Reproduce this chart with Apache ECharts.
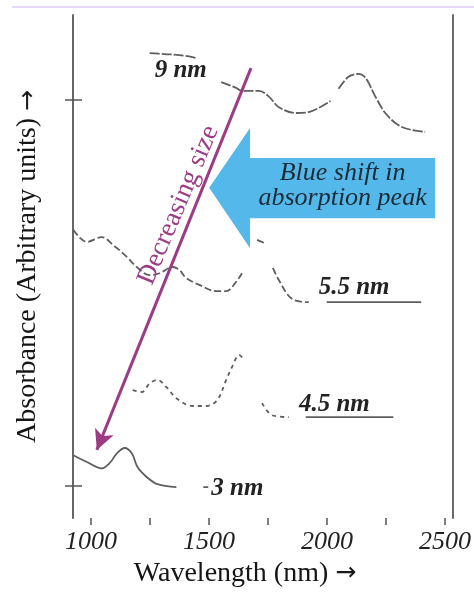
<!DOCTYPE html>
<html><head><meta charset="utf-8">
<script src="https://cdn.jsdelivr.net/npm/echarts@6/dist/echarts.min.js"></script>
<style>html,body{margin:0;padding:0;background:#fff}#c{width:474px;height:595px}</style>
</head><body><div id="c"></div>
<script>
// ---- data (wavelength in nm, absorbance in arbitrary units; null = gap) ----
const xTickValues = [1000, 1250, 1500, 1750, 2000, 2250, 2500];
const xLabelValues = [1000, 1500, 2000, 2500];
const yTickValues = [1, 9];

const wl9 = [1249,1312,1375,1447,1500,1552,1615,1640,1712,1754,1796,1868,1923,2015,2032,2049,2091,2133,2163,2205,2247,2302,2357,2416];
const ab9 = [9.97,9.95,9.93,9.87,null,9.37,9.25,9.19,9.19,9.07,8.85,8.73,8.75,8.98,null,9.23,9.48,9.54,9.46,9.07,8.73,8.48,8.38,8.34];

const wl55 = [925,954,983,1046,1093,1152,1194,1249,1291,1346,1375,1404,1459,1531,1573,1615,1640,1672,1704,1733,1752,1771,1796,1851,1923];
const ab55 = [6.31,6.14,6.06,6.16,6.00,5.75,5.54,5.37,5.41,5.54,5.48,5.31,5.17,5.04,5.04,5.23,5.41,null,6.10,6.04,null,5.52,5.27,4.88,4.81];
const wl55tail = [1999, 2399];
const ab55tail = [4.81, 4.81];

const wl45 = [1177,1215,1249,1282,1320,1362,1430,1489,1535,1573,1598,1628,1649,1687,1725,1767,1838];
const ab45 = [2.99,2.95,3.13,3.20,3.05,2.82,2.66,2.66,2.78,3.20,3.47,3.72,3.61,null,2.72,2.47,2.43];
const wl45tail = [1910, 2281];
const ab45tail = [2.43, 2.43];

const wl3 = [925,983,1046,1080,1110,1143,1173,1198,1236,1282,1362,1420,1476,1497];
const ab3 = [1.64,1.50,1.37,1.48,1.68,1.79,1.68,1.39,1.19,1.04,0.98,null,0.98,0.98];

const sizeLabels = ['9 nm', '5.5 nm', '4.5 nm', '3 nm'];

// ---- annotation anchors (data coordinates) ----
const ann = {
  sizeLabelAt: [[1270, 9.60], [1965, 5.12], [1881, 2.68], [1510, 0.94]],
  purpleFrom: [1678, 9.66], purpleTo: [1025, 1.75],
  purpleText: 'Decreasing size', purpleTextAt: [1371, 6.82],
  blueArrow: [[1501,7.18],[1674,8.42],[1674,7.80],[2458,7.80],[2458,6.55],[1674,6.55],[1674,5.93]],
  blueText: 'Blue shift in\nabsorption peak', blueTextAt: [2066, 7.22]
};

const pairs = (xs, ys) => xs.map((x, i) => [x, ys[i] === null ? '-' : ys[i]]);
const SERIF = '"Liberation Serif", "DejaVu Serif", serif';
const CURVE = '#5e5e5e';
const PURPLE = '#9c3c84';
const ARROW_STYLE = {fontFamily: '"DejaVu Sans", sans-serif', fontSize: 25, color: '#1a1a1a'};

const chart = echarts.init(document.getElementById('c'), null, {renderer: 'canvas'});

function curve(name, xs, ys, dash, smooth) {
  return {
    name, type: 'line', data: pairs(xs, ys), showSymbol: false, symbol: 'none',
    smooth: smooth, connectNulls: false, silent: true, animation: false,
    lineStyle: {color: CURVE, width: 1.8, type: dash}
  };
}

const option = {
  animation: false,
  backgroundColor: '#fff',
  grid: {left: 73, right: 19, top: 15, bottom: 77, containLabel: false},
  xAxis: {
    type: 'value', min: 924, max: 2534,
    name: 'Wavelength (nm) {a|\u2192}', nameLocation: 'middle', nameGap: 40,
    nameTextStyle: {fontFamily: SERIF, fontSize: 28, color: '#151515', padding: [0, 36, 0, 0], rich: {a: ARROW_STYLE}},
    axisLine: {show: false},
    axisTick: {show: true, inside: false, length: 7, customValues: xTickValues, lineStyle: {color: '#555', width: 1.5}},
    axisLabel: {show: true, customValues: xLabelValues, margin: 11, formatter: (v) => String(v),
      fontFamily: SERIF, fontStyle: 'italic', fontSize: 26, color: '#222'},
    splitLine: {show: false}
  },
  yAxis: [
    {
      type: 'value', min: 0.34, max: 10.76, position: 'left',
      name: 'Absorbance (Arbitrary units) {a|\u2192}', nameLocation: 'middle', nameGap: 31, nameRotate: 90,
      nameTextStyle: {fontFamily: SERIF, fontSize: 28, color: '#151515', rich: {a: ARROW_STYLE}},
      axisLine: {show: true, lineStyle: {color: '#666', width: 2}},
      axisTick: {show: true, length: 8, customValues: yTickValues, lineStyle: {color: '#555', width: 1.5}},
      axisLabel: {show: false}, splitLine: {show: false}
    },
    {
      type: 'value', min: 0.34, max: 10.76, position: 'left', offset: 0,
      axisLine: {show: false},
      axisTick: {show: true, inside: true, length: 9, customValues: yTickValues, lineStyle: {color: '#555', width: 1.5}},
      axisLabel: {show: false}, splitLine: {show: false}
    },
    {
      type: 'value', min: 0.34, max: 10.76, position: 'right',
      axisLine: {show: true, lineStyle: {color: '#6a6a6a', width: 2}},
      axisTick: {show: false}, axisLabel: {show: false}, splitLine: {show: false}
    }
  ],
  series: [
    Object.assign(curve('9 nm', wl9, ab9, [10, 2], 0.35), {
      markLine: {
        silent: true, animation: false, symbol: ['none', 'arrow'], symbolSize: [15, 20],
        label: {show: false},
        lineStyle: {color: PURPLE, width: 3, type: 'solid'},
        data: [[{coord: ann.purpleFrom}, {coord: ann.purpleTo}]]
      }
    }),
    curve('5.5 nm', wl55, ab55, [7, 3], 0.35),
    curve('5.5 nm tail', wl55tail, ab55tail, 'solid', false),
    curve('4.5 nm', wl45, ab45, [4, 4], 0.35),
    curve('4.5 nm tail', wl45tail, ab45tail, 'solid', false),
    curve('3 nm', wl3, ab3, 'solid', 0.35)
  ]
};
chart.setOption(option);

const px = (p) => chart.convertToPixel({xAxisIndex: 0, yAxisIndex: 0}, p);
const graphics = [];
graphics.push({type: 'line', shape: {x1: 12, y1: 7, x2: 474, y2: 7}, style: {stroke: '#dccdf4', lineWidth: 1.5}, silent: true});
graphics.push({type: 'polygon', shape: {points: ann.blueArrow.map(px)}, style: {fill: '#55b8ea'}, silent: true, z: 5});
const bt = px(ann.blueTextAt);
graphics.push({type: 'text', x: bt[0], y: bt[1], z: 6, silent: true,
  style: {text: ann.blueText, font: 'italic 26px ' + SERIF, fill: '#1c2a36', align: 'center', verticalAlign: 'middle', textAlign: 'center', textVerticalAlign: 'middle', lineHeight: 25}});
const pt = px(ann.purpleTextAt);
graphics.push({type: 'text', x: pt[0], y: pt[1], rotation: 67 * Math.PI / 180, z: 6, silent: true,
  style: {text: ann.purpleText, font: '27px ' + SERIF, fill: PURPLE, align: 'center', verticalAlign: 'middle', textAlign: 'center', textVerticalAlign: 'middle'}});
sizeLabels.forEach((t, i) => {
  const p = px(ann.sizeLabelAt[i]);
  graphics.push({type: 'text', x: p[0], y: p[1], z: 6, silent: true,
    style: {text: t, font: 'italic bold 25px ' + SERIF, fill: '#222', align: 'left', verticalAlign: 'middle', textAlign: 'left', textVerticalAlign: 'middle'}});
});
chart.setOption({graphic: graphics});
</script></body></html>
